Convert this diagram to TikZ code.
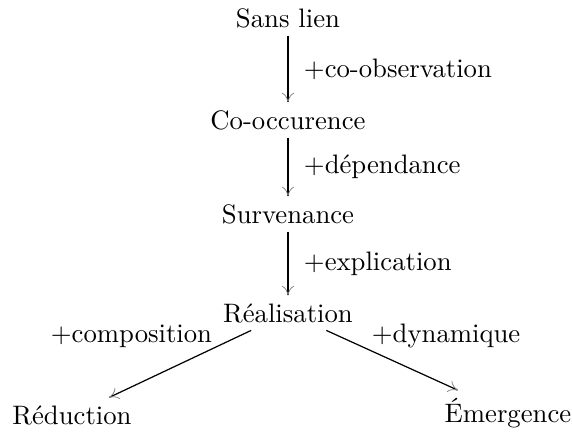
\documentclass[tikz,border=0pt]{standalone}
\usepackage{tikz}
\usetikzlibrary{arrows.meta,positioning}
\tikzset{
  etat/.style={font=\fontsize{10.95}{13.6}\selectfont,inner sep=3pt},
  lbl/.style={font=\fontsize{10.95}{13.6}\selectfont,inner sep=1pt},
  varr/.style={-{To[length=4pt,width=5pt,line width=0.3pt,color=gray]},line width=1.1pt},
  darr/.style={-{To[length=4pt,width=5pt,line width=0.3pt,color=gray]},line width=0.5pt},
}
\begin{document}
\begin{tikzpicture}[x=0.41pt,y=-0.41pt]
  \useasboundingbox (0,0) rectangle (572,432);
  \node[etat] (sl) at (288,18) {Sans lien};
  \node[etat] (co) at (288,120) {Co-occurence};
  \node[etat] (su) at (288,214) {Survenance};
  \node[etat] (re) at (288,313) {Réalisation};
  \node[etat] (rd) at (72,415) {Réduction};
  \node[etat] (em) at (508,413) {Émergence};
  \draw[varr] (sl) -- (co) node[lbl,midway,right=5pt] {+co-observation};
  \draw[varr] (co) -- (su) node[lbl,midway,right=5pt] {+dépendance};
  \draw[varr] (su) -- (re) node[lbl,midway,right=5pt] {+explication};
  \draw[darr] (re) -- (rd);
  \draw[darr] (re) -- (em);
  \node[lbl,anchor=east] (lc) at (215,336) {+composition};
  \node[lbl,anchor=west] (ld) at (369,336) {+dynamique};
\end{tikzpicture}
\end{document}
